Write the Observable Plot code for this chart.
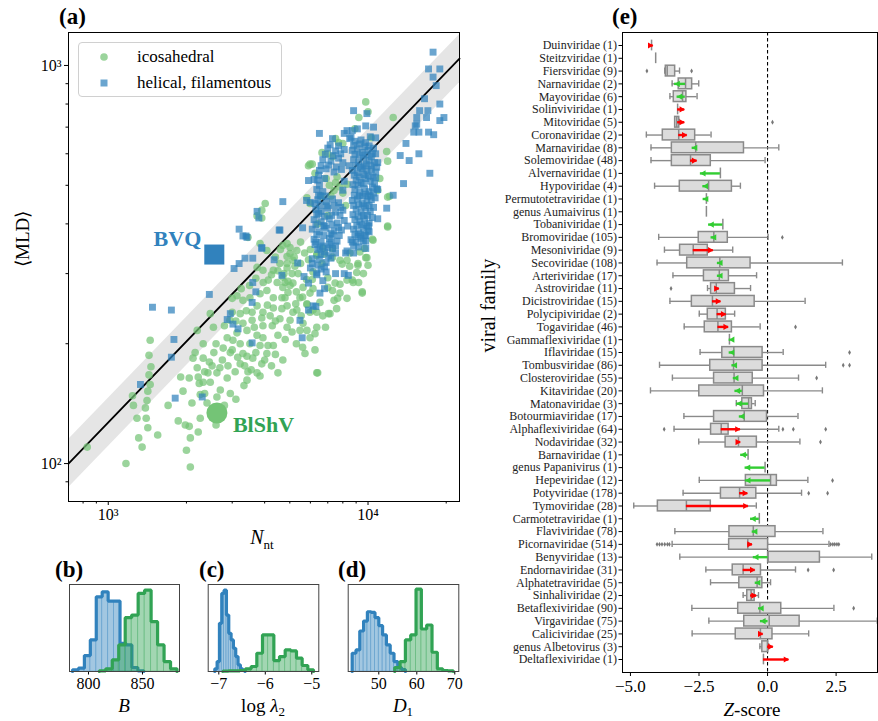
<!DOCTYPE html>
<html><head><meta charset="utf-8">
<script src="https://cdn.jsdelivr.net/npm/d3@7"></script>
<script src="https://cdn.jsdelivr.net/npm/@observablehq/plot@0.6"></script>
<style>
body{margin:0;background:#fff;}
#wrap{position:relative;width:878px;height:721px;font-family:"Liberation Serif",serif;color:#000;overflow:hidden;background:#fff}
#wrap svg{position:absolute;overflow:visible}
.lbl{position:absolute;white-space:nowrap;line-height:1}
.ttl{position:absolute;font-weight:bold;font-size:23px;line-height:1}
</style></head><body><div id="wrap"></div>
<script>
// ---------------- Panel (a) data: [N_nt, <MLD>] ----------------
const icosahedral = [
[830,110],[1170,100],[1450,204],[1435,187],[1460,175],[1435,167],[1450,158],[1420,152],[1410,144],[1240,148],[1250,140],[1390,138],[1290,130],[1400,130],[1420,123],[1310,116],[1350,110],[2070,98],
[1980,125],[2050,124],[2260,130],[2100,142],[1940,152],[2050,164],[2220,165],[2240,159],[2320,160],[2260,149],[2470,160],[2620,147],[2600,125],[2400,142],[2160,190],[2120,184],[2320,200],[2200,174],[2320,184],[2510,176],[2620,169],[2690,174],[2420,169],[2890,176],[3080,170],[3220,178],[3420,186],[3600,184],[3330,157],[3420,162],[3740,169],[3900,178],[3840,166],[4500,169],[2200,216],[2470,238],[2540,220],[2770,195],[2870,207],[3020,204],[3220,200],[3000,193],[3300,189],[3510,200],[3130,213],[3420,216],[3740,210],[3940,207],[4120,198],[3840,198],[3300,225],[2940,229],[3580,229],[3220,238],[3580,240],[3740,249],[3940,240],[4200,235],[4320,246],[4580,231],[4660,245],[4280,222],[3940,222],[3130,264],[3300,257],[3510,261],[3840,267],[4080,272],[4320,261],[4660,261],[4920,269],[4790,285],[5140,284],[5100,300],[4470,285],[4130,289],[3940,306],[3740,311],[4320,306],[4580,318],[4880,318],[5010,337],[5320,343],[4080,343],[3840,357],[4880,357],[5380,300],[5470,261],[5320,243],[5010,229],[4880,220],[5470,216],[5620,225],[6350,220],[6140,243],[5820,252],[6350,169],[5980,207],[4320,198],[4080,189],[2870,164],[3450,170],[2220,120],[2070,116],[1860,128],[2700,153],[2950,150],
[2750,182],[2950,190],[3150,185],[3350,176],[3550,172],[3700,190],[4000,182],[4250,176],[4400,188],[4700,182],[2600,200],[2800,222],[3000,240],[3100,228],[3400,242],[3650,220],[3900,232],[4100,250],[4400,228],[4500,210],[4800,205],[5100,214],[5300,200],[5600,196],[3000,260],[3250,275],[3500,280],[3700,292],[3950,285],[4250,298],[4500,305],[4750,300],[5300,270],[5600,262],[5800,290],[6100,290],[5200,330],[5500,318],[5700,338],[5900,325],[4400,330],[4600,345],[5500,360],[6000,345],[2450,180],[2550,190],[2350,170],[1900,165],[1700,140],[1550,118],[2000,108],[2350,150],[2800,140],[3100,145],
[9800,810],[10000,765],[9220,740],[12500,740],[8900,693],[7500,655],[7700,640],[10300,658],[11800,608],[11900,575],[5900,560],[6100,565],[6250,536],[7300,590],[7500,508],[8300,503],[8000,637],[11100,520],[10900,486],[12100,469],[11900,393],[10450,364],[9700,347],[4020,450],[3900,433],[3900,414],[3740,419],[3450,370],[5820,465],[5980,450],[7000,600],[6650,604],[5980,565],[11900,467],[11900,395],[10400,366],[9800,329],[9300,340],[10000,315],[9150,318],[9050,302],[8500,313],[7950,317],[8300,289],[8700,289],[7300,330],[6800,336],[6350,336],[6650,318],[6140,303],[6140,275],[7300,272],[7000,277],[7800,282],[7800,268],[7400,257],[6530,254],[6350,240],[5980,240],[5820,251],[5530,235],[6700,235],[7140,238],[9500,270],[9200,285],[4700,277],[4920,287],[4700,353],[5010,349],[4880,331],[5140,324],[5230,313],[4880,310],[4700,294],[5010,280],[4790,261],[5270,252],[5140,240],[4880,249],[5980,268],[5620,277],[7000,293],[8300,324],[9900,329],[9140,315],[9600,300],[8770,285],[9500,268],[8300,260],[7570,245],[7040,238],[6860,220],[6250,212],[5820,216],[6250,193],[5720,189],[6400,169],[7640,260],[7470,284],[7800,324],[8520,338],[6350,333],[6700,348],[7300,347],
[7100,500],[7400,485],[7800,495],[7200,470],[6900,520],[7600,525],[8000,478],[6600,470],[7000,420],[8200,445],[6400,400]
];
const helical = [
[17800,1080],[17100,980],[18900,980],[17800,935],[18300,890],[16500,825],[17000,770],[15800,770],[18900,800],[15400,740],[16800,740],[18900,727],[19600,740],[15200,705],[15000,680],[15700,680],[17100,680],[17900,670],[14000,637],[15700,600],[13300,594],[14400,577],[17300,536],[13700,505],[11800,438],[10900,412],[10100,382],[12500,472],[15400,712],
[6500,675],[8800,770],[9900,757],[8300,686],[8500,655],[9800,705],[10500,700],[10700,658],[10900,570],[10900,488],[8100,675],[8700,686],[9100,693],
[6200,517],[4700,455],[6000,453],[5600,391],[3740,430],[3800,414],[4550,386],[3190,388],[3390,373],[3900,347],[5900,514],[5800,458],[4580,386],[5360,319],[6100,327],[6000,310],[5670,295],[5900,284],[6350,301],[6530,268],[6150,249],[5900,243],[6300,248],[7500,300],[8100,300],[8400,297],[9600,362],[9800,347],[8800,338],[8200,338],[7500,338],[7200,360],[6300,360],[6530,348],[7000,348],[8700,360],
[1480,247],[1750,243],[1790,205],[1750,185],[1330,158],[1810,146],[2300,147],[2450,266],[3050,309],[3190,318],[3360,328],[3600,328],[3900,349],[4350,325],[3600,285],[3700,270],[3580,254],[2950,238],[2870,230],[3020,224],[3160,218],[3580,201],[4660,297],[6100,318],[6350,298],[6800,275],[5470,229],[5580,207],[3300,373],[3420,370],
[7300,655],[8600,660],[8900,645],[9400,650],[9800,640],[10200,662],
[7000,620],[7500,610],[8100,615],[8700,612],[9100,618],[9500,605],[10000,612],[10400,600],
[6700,580],[7200,575],[7700,585],[8000,570],[8800,580],[9200,572],[9600,585],[10100,578],[10600,570],
[6500,545],[6900,550],[7400,540],[7900,548],[8700,545],[9100,538],[9500,550],[9900,542],[10300,548],[10700,540],
[6400,515],[6800,520],[8100,512],[9000,515],[9400,508],[9800,520],[10200,512],[10600,505],
[6350,488],[6700,482],[8000,486],[8900,488],[9300,480],[9700,490],[10100,482],[10500,478],
[6400,460],[6900,455],[7300,462],[7700,452],[8700,458],[9100,462],[9500,450],[9900,456],[10300,460],
[6300,435],[6600,430],[7000,438],[7500,428],[8000,433],[9000,435],[9400,428],[9800,438],[10200,430],
[6200,410],[6600,405],[7100,412],[7600,402],[8100,408],[8900,410],[9300,405],[9700,412],[10100,402],
[6100,388],[6500,382],[6900,390],[7400,384],[7900,386],[8800,388],[9200,380],[9600,390],[10000,384],
[6200,366],[6600,360],[7100,368],[7600,362],[8600,365],[9000,360],[9400,368],[9800,362],
[6400,345],[6800,340],[7300,347],[8300,342],[6500,326],[6900,320],[7200,328],[6600,308],[6900,303],[6700,288],
[9250,595],[9650,560],[10450,525],[9150,500],[9550,470],[10000,470],[8800,445],[9600,420],[10050,395],[9150,372],[9700,375],[6550,470],[6250,450],[6800,395],[7300,375],[6450,425],[7800,420],[8350,395],[8450,560],
[7150,632],[7700,628],[8800,630],[9300,635],[9700,625],[10100,628],[10500,620],
[6850,598],[7350,594],[7850,600],[8900,598],[9800,596],[10300,590],[10700,600],
[6600,560],[7050,562],[7550,556],[8950,560],[9350,555],[9850,565],[10250,560],[10800,555],
[6450,530],[8850,530],[9250,525],[9650,532],[10050,528],[10700,522],
[6500,500],[8750,502],[9600,505],[10400,495],[10800,490],
[6450,472],[6850,470],[8850,472],[9250,470],[9800,475],[10200,470],[10650,465],
[6550,446],[6950,444],[7400,445],[7850,440],[9200,446],[9650,444],[10100,445],[10500,440],
[6350,422],[6800,418],[7250,420],[8750,422],[9150,418],[9950,420],[10400,415],
[6300,398],[6750,396],[7250,398],[7700,392],[9050,396],[9450,398],[9900,396],
[6350,376],[6750,374],[7200,378],[7750,374],[8900,376],[9350,376],[9800,374],
[6250,355],[6700,352],[7100,355],[7500,352],[8800,352],[9200,350],
[6600,335],[7050,333],[6400,315],[6800,312]
];
const highlights = [
  {name:"BVQ", N:2560, MLD:335, kind:"helical"},
  {name:"BlShV", N:2620, MLD:134, kind:"icosahedral"}
];
const fitN = [703, 22500];
const fitMLD = [100, 1040];
const fitLow = [87, 905];
const fitHigh = [115, 1195];
const xTicksA = [1000, 10000], xTickLabelsA = ["10³", "10⁴"];
const yTicksA = [100, 1000], yTickLabelsA = ["10²", "10³"];
const xMinorA = [800, 900, 2000, 3000, 4000, 5000, 6000, 7000, 8000, 9000, 20000];
const yMinorA = [90, 200, 300, 400, 500, 600, 700, 800, 900];

// ---------------- Panels (b)-(d) histogram data ----------------
const bBlueEdges = [785.2,790.7,796.2,801.7,807.2,812.7,818.2,823.7,829.2,834.7,840.2,845.7,851.2];
const bBlueCounts = [5,10,48,95,225,240,212,212,85,80,12,2];
const bGreenEdges = [810,816,822,828,834,840,846,852,858,864,870,876,882];
const bGreenCounts = [2,8,35,80,162,170,235,245,150,80,30,8];
const cBlueEdges = [-7.086,-7.036,-6.986,-6.936,-6.886,-6.836,-6.786,-6.736,-6.686,-6.636,-6.586,-6.536,-6.486,-6.436];
const cBlueCounts = [8,30,145,235,245,170,115,95,70,45,20,8,3];
const cGreenEdges = [-6.913,-6.791,-6.669,-6.547,-6.426,-6.304,-6.182,-6.060,-5.938,-5.816,-5.694,-5.572,-5.451,-5.329,-5.207,-5.085,-4.963];
const cGreenCounts = [1,2,2,3,8,15,55,110,110,33,45,65,62,40,18,5];
const dBlueEdges = [43,44,45,46,47,48,49,50,51,52,53,54,55,56,57];
const dBlueCounts = [55,65,122,152,180,178,162,138,110,80,55,30,12,6];
const dGreenEdges = [54.2,55.6,57.0,58.4,59.8,61.2,62.6,64.0,65.4,66.8,68.2,69.6];
const dGreenCounts = [12,30,95,110,248,128,140,58,8,3,2];

// ---------------- Panel (e) data ----------------
const families = ["Duinviridae (1)","Steitzviridae (1)","Fiersviridae (9)","Narnaviridae (2)","Mayoviridae (6)","Solinviviridae (1)","Mitoviridae (5)","Coronaviridae (2)","Marnaviridae (8)","Solemoviridae (48)","Alvernaviridae (1)","Hypoviridae (4)","Permutotetraviridae (1)","genus Aumaivirus (1)","Tobaniviridae (1)","Bromoviridae (105)","Mesoniviridae (9)","Secoviridae (108)","Arteriviridae (17)","Astroviridae (11)","Dicistroviridae (15)","Polycipiviridae (2)","Togaviridae (46)","Gammaflexiviridae (1)","Iflaviridae (15)","Tombusviridae (86)","Closteroviridae (55)","Kitaviridae (20)","Matonaviridae (3)","Botourmiaviridae (17)","Alphaflexiviridae (64)","Nodaviridae (32)","Barnaviridae (1)","genus Papanivirus (1)","Hepeviridae (12)","Potyviridae (178)","Tymoviridae (28)","Carmotetraviridae (1)","Flaviviridae (78)","Picornaviridae (514)","Benyviridae (13)","Endornaviridae (31)","Alphatetraviridae (5)","Sinhaliviridae (2)","Betaflexiviridae (90)","Virgaviridae (75)","Caliciviridae (25)","genus Albetovirus (3)","Deltaflexiviridae (1)"];
const whiskerLo = [null,null,-3.75,-3.48,-3.56,null,-3.38,-4.42,-4.25,-4.25,null,-4.12,null,null,null,-3.97,-3.76,-4.03,-3.45,-2.19,-3.56,-2.49,-3.04,null,-2.46,-3.94,-3.47,-4.27,-1.14,-3.05,-3.41,-2.51,null,null,-2.49,-3.08,-4.88,null,-3.38,-3.48,-3.20,-2.25,-2.08,-0.89,-2.76,-2.14,-2.75,-0.28,null];
const boxQ1 = [null,null,-3.71,-3.24,-3.42,null,-3.37,-3.82,-3.49,-3.49,null,-3.20,null,null,null,-2.51,-3.19,-2.93,-2.32,-2.06,-2.76,-2.18,-2.29,null,-1.65,-2.09,-1.95,-2.49,-0.92,-1.95,-2.06,-1.53,null,null,-0.79,-1.70,-4.00,null,-1.39,-1.40,0.02,-1.27,-1.03,-0.74,-1.07,-0.85,-1.16,-0.19,null];
const boxMedian = [-4.23,-4.08,-3.66,-2.99,-3.10,-3.28,-3.31,-3.24,-2.62,-2.81,-1.72,-2.15,-2.23,-2.23,-1.63,-1.96,-2.71,-1.74,-1.76,-1.87,-2.01,-1.84,-1.81,-1.39,-1.23,-1.24,-1.22,-0.92,-0.69,-0.85,-1.69,-1.06,-0.71,-0.09,0.11,-1.02,-2.96,-0.30,-0.52,-0.72,0.02,-0.89,-0.38,-0.60,-0.28,0.06,-0.26,0.00,-0.15];
const boxQ3 = [null,null,-3.37,-2.75,-2.96,null,-3.22,-2.64,-0.86,-2.07,null,-1.30,null,null,null,-1.45,-2.18,-0.62,-1.41,-1.19,-0.47,-1.52,-1.30,null,-0.18,-0.18,-0.54,-0.13,-0.57,-0.02,-1.42,-0.39,null,null,0.34,-0.41,-2.07,null,0.29,0.02,1.91,-0.24,-0.19,-0.47,0.50,1.17,0.18,0.02,null];
const whiskerHi = [null,null,-3.21,-2.51,-2.57,null,-3.22,-2.06,0.41,-0.09,null,-0.99,null,null,null,0.02,-1.27,2.73,-0.40,-0.62,1.37,-1.20,-0.27,null,0.57,2.12,1.13,2.00,-0.45,1.11,0.41,1.18,null,null,1.47,1.24,-0.41,null,2.02,2.24,3.80,1.02,0.11,-0.33,2.42,4.00,1.50,0.04,null];
const outliers = [
  ["Fiersviridae (9)", [-4.40,-2.77]],
  ["Mitoviridae (5)", [0.18]],
  ["Bromoviridae (105)", [0.54]],
  ["Astroviridae (11)", [-3.52]],
  ["Togaviridae (46)", [1.02]],
  ["Iflaviridae (15)", [2.99]],
  ["Tombusviridae (86)", [2.76,2.99]],
  ["Closteroviridae (55)", [1.79]],
  ["Alphaflexiviridae (64)", [-3.77,0.56,0.94,2.12]],
  ["Nodaviridae (32)", [1.93]],
  ["Hepeviridae (12)", [2.37]],
  ["Potyviridae (178)", [1.50,2.19]],
  ["Picornaviridae (514)", [-4.03,-3.94,-3.85,-3.75,-3.65,-3.58,2.30,2.38,2.45,2.53,2.60]],
  ["Endornaviridae (31)", [1.48,2.41]],
  ["Betaflexiviridae (90)", [3.14]]
];
const arrowFrom = [-4.27,null,null,-2.99,-3.00,-3.28,-3.28,-3.24,-2.62,-2.81,-1.72,-2.15,-2.20,null,-1.63,-1.96,-2.71,-1.74,-1.74,-1.87,-2.01,-1.84,-1.81,-1.33,-1.23,-1.22,-1.17,-0.92,-0.69,-0.85,-1.69,-1.06,-0.71,-0.09,0.11,-1.02,-2.96,-0.30,-0.47,-0.72,0.02,-0.89,-0.36,-0.62,-0.26,0.02,-0.30,0.00,-0.15];
const arrowTo   = [-4.17,null,null,-3.39,-3.30,-3.02,-3.02,-2.93,-2.75,-2.57,-2.45,-2.36,-2.35,null,-2.15,-2.06,-1.98,-1.83,-1.83,-1.76,-1.70,-1.51,-1.42,-1.40,-1.40,-1.30,-1.25,-1.19,-1.13,-1.03,-0.99,-0.98,-0.98,-0.82,-0.81,-0.72,-0.70,-0.62,-0.56,-0.55,-0.52,-0.45,-0.45,-0.40,-0.33,-0.26,-0.16,0.21,0.78];
const zTicks = [-5, -2.5, 0, 2.5];

// ---------------- colours ----------------
const BLUE = "#3182bd", GREEN = "#31a354", LGREEN = "#74c476", GRAY = "#8a8a8a", ARROW_UP = "#ff0000", ARROW_DOWN = "#32cd32";
const FONT = "'Liberation Serif', serif";
const minus = v => (v < 0 ? "\u2212" : "") + Math.abs(v);
const minus1 = v => (v < 0 ? "\u2212" : "") + Math.abs(v).toFixed(1);

const wrap = document.getElementById("wrap");
function place(el, left, top) { el.style.left = left + "px"; el.style.top = top + "px"; wrap.appendChild(el); return el; }
function html(str, left, top, style = "", cls = "lbl") {
  const d = document.createElement("div"); d.className = cls; d.innerHTML = str;
  d.style.cssText += style; place(d, left, top); return d;
}

// ---------------- Panel (a) ----------------
const icoRows = icosahedral.map(([N, MLD]) => ({N, MLD}));
const helRows = helical.map(([N, MLD]) => ({N, MLD}));
const fitRows = fitN.map((N, i) => ({N, MLD: fitMLD[i], lo: fitLow[i], hi: fitHigh[i]}));
const plotA = Plot.plot({
  width: 470, height: 545, marginLeft: 68, marginRight: 11, marginTop: 32, marginBottom: 44,
  style: {fontFamily: FONT, fontSize: "16px", background: "transparent", color: "#000"},
  x: {type: "log", domain: [703, 22500]},
  y: {type: "log", domain: [80.3, 1210]},
  marks: [
    Plot.areaY(fitRows, {x: "N", y1: "lo", y2: "hi", fill: "#e5e5e5"}),
    Plot.line(fitRows, {x: "N", y: "MLD", stroke: "#000", strokeWidth: 1.8}),
    Plot.dot(icoRows, {x: "N", y: "MLD", r: 3.8, fill: LGREEN, fillOpacity: 0.72}),
    Plot.dot(helRows, {x: "N", y: "MLD", symbol: "square", r: 3.9, fill: BLUE, fillOpacity: 0.72}),
    Plot.dot(highlights.filter(d => d.kind === "helical"), {x: "N", y: "MLD", symbol: "square", r: 11.3, fill: BLUE}),
    Plot.dot(highlights.filter(d => d.kind === "icosahedral"), {x: "N", y: "MLD", r: 10.5, fill: LGREEN}),
    Plot.text(highlights.filter(d => d.kind === "helical"), {x: "N", y: "MLD", text: "name", dx: -13, dy: -16, textAnchor: "end", fill: BLUE, fontWeight: "bold", fontSize: 22}),
    Plot.text(highlights.filter(d => d.kind === "icosahedral"), {x: "N", y: "MLD", text: "name", dx: 16, dy: 12, textAnchor: "start", fill: GREEN, fontWeight: "bold", fontSize: 22}),
    Plot.axisX({ticks: xTicksA, tickFormat: d => xTickLabelsA[xTicksA.indexOf(d)], tickSize: 4, tickPadding: 3, fontSize: 16, label: null}),
    Plot.axisX({ticks: xMinorA, tickFormat: () => "", tickSize: 2.5, label: null}),
    Plot.axisY({ticks: yTicksA, tickFormat: d => yTickLabelsA[yTicksA.indexOf(d)], tickSize: 4, tickPadding: 3, fontSize: 16, label: null}),
    Plot.axisY({ticks: yMinorA, tickFormat: () => "", tickSize: 2.5, label: null}),
    Plot.text(["\u27E8MLD\u27E9"], {frameAnchor: "left", dx: -46, rotate: -90, fontSize: 19}),
    Plot.frame({stroke: "#000", strokeWidth: 1})
  ]
});
place(plotA, 0, 0);

// ---------------- Histograms ----------------
function histMarks(edges, counts, color) {
  const bins = counts.map((c, i) => ({x1: edges[i], x2: edges[i + 1], c}));
  const outline = [{x: edges[0], y: 0}];
  counts.forEach((c, i) => { outline.push({x: edges[i], y: c}); outline.push({x: edges[i + 1], y: c}); });
  outline.push({x: edges[edges.length - 1], y: 0});
  return [
    Plot.rect(bins, {x1: "x1", x2: "x2", y1: 0, y2: "c", fill: color, fillOpacity: 0.45, stroke: color, strokeOpacity: 0.35, strokeWidth: 0.8}),
    Plot.line(outline, {x: "x", y: "y", stroke: color, strokeWidth: 3.2, strokeLinejoin: "miter"})
  ];
}
function hist(left, width, mL, mR, domain, ticks, series) {
  const p = Plot.plot({
    width, height: 161, marginLeft: mL, marginRight: mR, marginTop: 24, marginBottom: 50,
    style: {fontFamily: FONT, fontSize: "16px", background: "transparent", color: "#000"},
    x: {domain}, y: {domain: [0, 262], axis: null},
    marks: [
      ...series.flatMap(s => histMarks(s[0], s[1], s[2])),
      Plot.axisX({ticks, tickFormat: minus, tickSize: 3.5, tickPadding: 3, fontSize: 16, label: null}),
      Plot.frame({stroke: "#444", strokeWidth: 1})
    ]
  });
  place(p, left, 560);
}
hist(0, 190, 69, 11, [782.4, 884.3], [800, 850], [[bBlueEdges, bBlueCounts, BLUE], [bGreenEdges, bGreenCounts, GREEN]]);
hist(190, 140, 17.7, 11.7, [-7.228, -4.849], [-7, -6, -5], [[cBlueEdges, cBlueCounts, BLUE], [cGreenEdges, cGreenCounts, GREEN]]);
hist(330, 140, 17.7, 11.7, [41.95, 71.05], [50, 60, 70], [[dBlueEdges, dBlueCounts, BLUE], [dGreenEdges, dGreenCounts, GREEN]]);

// ---------------- Panel (e) ----------------
const rowsE = families.map((name, i) => ({i, name, lo: whiskerLo[i], q1: boxQ1[i], med: boxMedian[i], q3: boxQ3[i], hi: whiskerHi[i]}));
const boxedE = rowsE.filter(d => d.q1 != null);
const outE = outliers.flatMap(([name, vals]) => vals.map(v => ({i: families.indexOf(name), v})));
const arrowsE = families.map((name, i) => ({i, from: arrowFrom[i], to: arrowTo[i]})).filter(d => d.from != null);
const upE = arrowsE.filter(d => d.to > d.from), downE = arrowsE.filter(d => d.to < d.from);
const plotE = Plot.plot({
  width: 408, height: 721, marginLeft: 152, marginRight: 1, marginTop: 32, marginBottom: 49,
  style: {fontFamily: FONT, fontSize: "12px", background: "transparent", color: "#000"},
  x: {domain: [-5.29, 4.01]},
  y: {domain: [-1.0163, 49.0163], range: [32, 672]},
  marks: [
    Plot.ruleX([0], {stroke: "#000", strokeDasharray: "3.5,2.5", strokeWidth: 1.1}),
    Plot.ruleY(boxedE, {y: "i", x1: "lo", x2: "q1", stroke: GRAY, strokeWidth: 1.4}),
    Plot.ruleY(boxedE, {y: "i", x1: "q3", x2: "hi", stroke: GRAY, strokeWidth: 1.4}),
    Plot.ruleX(boxedE, {x: "lo", y1: d => d.i - 0.24, y2: d => d.i + 0.24, stroke: GRAY, strokeWidth: 1.4}),
    Plot.ruleX(boxedE, {x: "hi", y1: d => d.i - 0.24, y2: d => d.i + 0.24, stroke: GRAY, strokeWidth: 1.4}),
    Plot.rect(boxedE, {x1: "q1", x2: "q3", y1: d => d.i - 0.42, y2: d => d.i + 0.42, fill: "#dcdcdc", stroke: GRAY, strokeWidth: 1.5}),
    Plot.ruleX(rowsE, {x: "med", y1: d => d.i - 0.42, y2: d => d.i + 0.42, stroke: GRAY, strokeWidth: 1.5}),
    Plot.dot(outE, {x: "v", y: "i", symbol: "diamond", r: 1.5, fill: "#777"}),
    Plot.ruleY(upE, {y: "i", x1: "from", x2: "to", stroke: ARROW_UP, strokeWidth: 2.4}),
    Plot.dot(upE, {x: "to", y: "i", symbol: "triangle", rotate: 90, r: 2.3, fill: ARROW_UP, dx: -3.4}),
    Plot.ruleY(downE, {y: "i", x1: "from", x2: "to", stroke: ARROW_DOWN, strokeWidth: 2.4}),
    Plot.dot(downE, {x: "to", y: "i", symbol: "triangle", rotate: -90, r: 2.3, fill: ARROW_DOWN, dx: 3.4}),
    Plot.axisY({ticks: families.map((d, i) => i), tickFormat: i => families[i], tickSize: 3.5, tickPadding: 2, fontSize: 12, fill: "#222", label: null}),
    Plot.axisX({ticks: zTicks, tickFormat: minus1, tickSize: 4, tickPadding: 3, fontSize: 17, label: null}),
    Plot.text(["viral family"], {frameAnchor: "left", dx: -134, rotate: -90, fontSize: 20}),
    Plot.frame({stroke: "#000", strokeWidth: 1})
  ]
});
place(plotE, 470, 0);

// ---------------- HTML labels ----------------
html("(a)", 59, 5, "", "ttl");
html("(e)", 612, 5, "", "ttl");
html("(b)", 55, 558, "", "ttl");
html("(c)", 199, 558, "", "ttl");
html("(d)", 338, 558, "", "ttl");
html("<i>N</i><span style='font-size:13px;position:relative;top:5px'>nt</span>", 262, 537, "transform:translate(-50%,-50%);font-size:20px");
html("<i>B</i>", 124, 705, "transform:translate(-50%,-50%);font-size:19px");
html("log <i>λ</i><span style='font-size:13px;position:relative;top:4px'>2</span>", 263, 705, "transform:translate(-50%,-50%);font-size:19px");
html("<i>D</i><span style='font-size:13px;position:relative;top:4px'>1</span>", 403, 705, "transform:translate(-50%,-50%);font-size:19px");
html("<i>Z</i>-score", 752, 709, "transform:translate(-50%,-50%);font-size:19px");

// legend
const leg = html("", 78, 42, "width:204px;height:55px;border:1px solid #d0d0d0;border-radius:4px;background:rgba(255,255,255,0.8);box-sizing:border-box", "lbl");
leg.innerHTML =
  "<svg width='204' height='55' style='position:absolute;left:0;top:0'>" +
  "<circle cx='25' cy='14' r='3.8' fill='" + LGREEN + "' fill-opacity='0.72'/>" +
  "<rect x='21.5' y='36.5' width='7' height='7' fill='" + BLUE + "' fill-opacity='0.72'/></svg>" +
  "<div style='position:absolute;left:58px;top:5px;font-size:17px'>icosahedral</div>" +
  "<div style='position:absolute;left:58px;top:31px;font-size:17px'>helical, filamentous</div>";
</script></body></html>
